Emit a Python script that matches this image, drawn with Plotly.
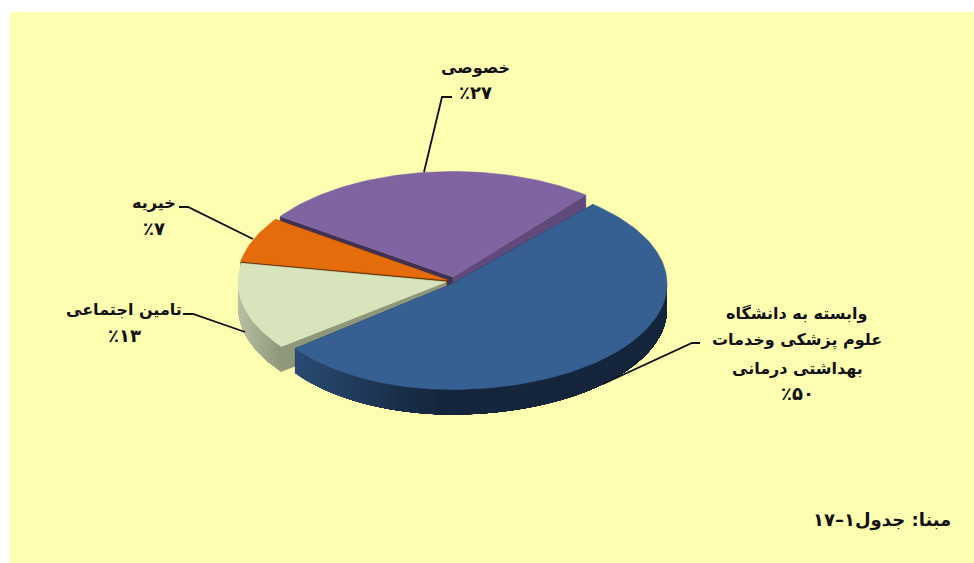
import math
import plotly.graph_objects as go

# ---------- data ----------
categories = ["خصوصی", "خیریه", "تامین اجتماعی", "وابسته به دانشگاه علوم پزشکی وخدمات بهداشتی درمانی"]
printed_percent = [27, 7, 13, 50]
sector_share = [26.1, 6.9, 13.3, 53.7]
source_note = "مبنا: جدول۱–۱۷"

# ---------- styling ----------
W, H = 974, 563
BG = "#FEFEB0"
TOP = ["#8064A2", "#E46C0A", "#D8E4BC", "#366092"]
WALL_START = ["#3F3151", "#6E3607", "#8E9779", "#1B3050"]
WALL_END = ["#604A7B", "#6E3607", "#8E9779", "#1B3050"]
OUTER_LEFT = ["#604A7B", "#A5500A", "#B8C0A4", "#2A4A72"]
OUTER_RIGHT = ["#604A7B", "#A5500A", "#8E9779", "#15253C"]
FONT = dict(family="DejaVu Sans", size=16, color="#111111")
FONT_PCT = dict(family="DejaVu Sans", size=18, color="#111111")

START_DEG = 51
DEPTH = 25
RY = 105.5
# exploded 3D layout of the pieces: apex, left/right radius, angular trim at the end
APEX = [(453, 277), (447, 280), (446, 282), (452, 284)]
RX_L = [211, 209.5, 208, 198]
RX_R = [211, 209.5, 208, 215]
TRIM_END = [0, 0, 0, 2]

PERSIAN = "۰۱۲۳۴۵۶۷۸۹"


def fa(n):
    return "".join(PERSIAN[int(c)] for c in str(n))


def mix(a, b, t):
    ca = [int(a[i:i + 2], 16) for i in (1, 3, 5)]
    cb = [int(b[i:i + 2], 16) for i in (1, 3, 5)]
    return "#%02x%02x%02x" % tuple(round(p + (q - p) * t) for p, q in zip(ca, cb))


def rim(i, deg):
    r = math.radians(deg)
    c, s = math.cos(r), math.sin(r)
    rx = RX_L[i] if c < 0 else RX_R[i]
    return APEX[i][0] + rx * c, APEX[i][1] - RY * s


def poly(fig, xs, ys, color, lw=0.6):
    fig.add_trace(go.Scatter(x=xs, y=ys, mode="lines", fill="toself", fillcolor=color,
                             line=dict(color=color, width=lw), hoverinfo="skip", showlegend=False))


fig = go.Figure()

total = sum(sector_share)
a0 = START_DEG
bounds = []
for share in sector_share:
    a1 = a0 + share / total * 360
    bounds.append((a0, a1))
    a0 = a1

for i, (b0, b1) in enumerate(bounds):
    b1 -= TRIM_END[i]
    ax, ay = APEX[i]
    # radial cut faces
    px, py = rim(i, b1)
    poly(fig, [ax, px, px, ax, ax], [ay, py, py + DEPTH, ay + DEPTH, ay], WALL_START[i])
    px, py = rim(i, b0)
    poly(fig, [ax, px, px, ax, ax], [ay, py, py + DEPTH, ay + DEPTH, ay], WALL_END[i])
    # outer wall, only the part that faces the viewer, in shaded strips from left to right
    f0, f1 = max(b0, 180), min(b1, 360)
    if f1 > f0:
        lo = min(rim(i, f0)[0], rim(i, f1)[0])
        hi = max(rim(i, f0)[0], rim(i, f1)[0])
        gain = 2.6 if i == 3 else 1
        steps = max(2, int((f1 - f0) / 1.0))
        # strips are painted from the far left and each runs on to the end of the wall,
        # so no seam can show between two of them
        for k in range(steps):
            d = f0 + (f1 - f0) * k / steps
            arc = [rim(i, d + (f1 - d) * m / 40) for m in range(41)]
            xmid = rim(i, d + (f1 - f0) / steps / 2)[0]
            t = min(1, (xmid - lo) / max(1, hi - lo) * gain)
            xs = [p[0] for p in arc] + [p[0] for p in reversed(arc)]
            ys = [p[1] for p in arc] + [p[1] + DEPTH for p in reversed(arc)]
            poly(fig, xs + xs[:1], ys + ys[:1], mix(OUTER_LEFT[i], OUTER_RIGHT[i], t), 0)
    # top face
    n = max(2, int((b1 - b0) / 1.5))
    arc = [rim(i, b0 + (b1 - b0) * k / n) for k in range(n + 1)]
    poly(fig, [ax] + [p[0] for p in arc] + [ax], [ay] + [p[1] for p in arc] + [ay], TOP[i])

# leader lines
leaders = [
    ([424, 442, 452], [172, 97, 97]),
    ([253, 188, 179], [239, 207, 207]),
    ([245, 193, 183], [332, 314, 314]),
    ([603, 692, 700], [384, 343, 343]),
]
for xs, ys in leaders:
    fig.add_trace(go.Scatter(x=xs, y=ys, mode="lines", line=dict(color="#111111", width=1.8),
                             hoverinfo="skip", showlegend=False))

label_lines = [
    [categories[0], "٪" + fa(printed_percent[0])],
    [categories[1], "٪" + fa(printed_percent[1])],
    [categories[2], "٪" + fa(printed_percent[2])],
    ["وابسته به دانشگاه", "علوم پزشکی وخدمات", "بهداشتی درمانی", "٪" + fa(printed_percent[3])],
]
label_xy = [
    (475, [67, 92]),
    (154, [202, 228]),
    (124, [309, 335]),
    (797, [313, 340, 368, 393]),
]
annotations = []
for lines, (lx, lys) in zip(label_lines, label_xy):
    for j, (line, ly) in enumerate(zip(lines, lys)):
        pct = j == len(lines) - 1
        annotations.append(dict(x=lx, y=ly, text="<b>" + line + "</b>", showarrow=False,
                                xanchor="center", yanchor="middle", font=FONT_PCT if pct else FONT))
annotations.append(dict(x=882, y=520, text="<b>" + source_note + "</b>", showarrow=False,
                        xanchor="center", yanchor="middle", font=dict(FONT, size=18)))

fig.update_layout(
    width=W, height=H, autosize=False,
    margin=dict(l=10, r=0, t=12, b=0),
    paper_bgcolor="white", plot_bgcolor=BG,
    showlegend=False, annotations=annotations,
    xaxis=dict(range=[10, W], visible=False, fixedrange=True),
    yaxis=dict(range=[H, 12], visible=False, fixedrange=True),
)
fig.write_html("out.html", config=dict(displayModeBar=False),
               post_script="document.body.style.margin='0';")
